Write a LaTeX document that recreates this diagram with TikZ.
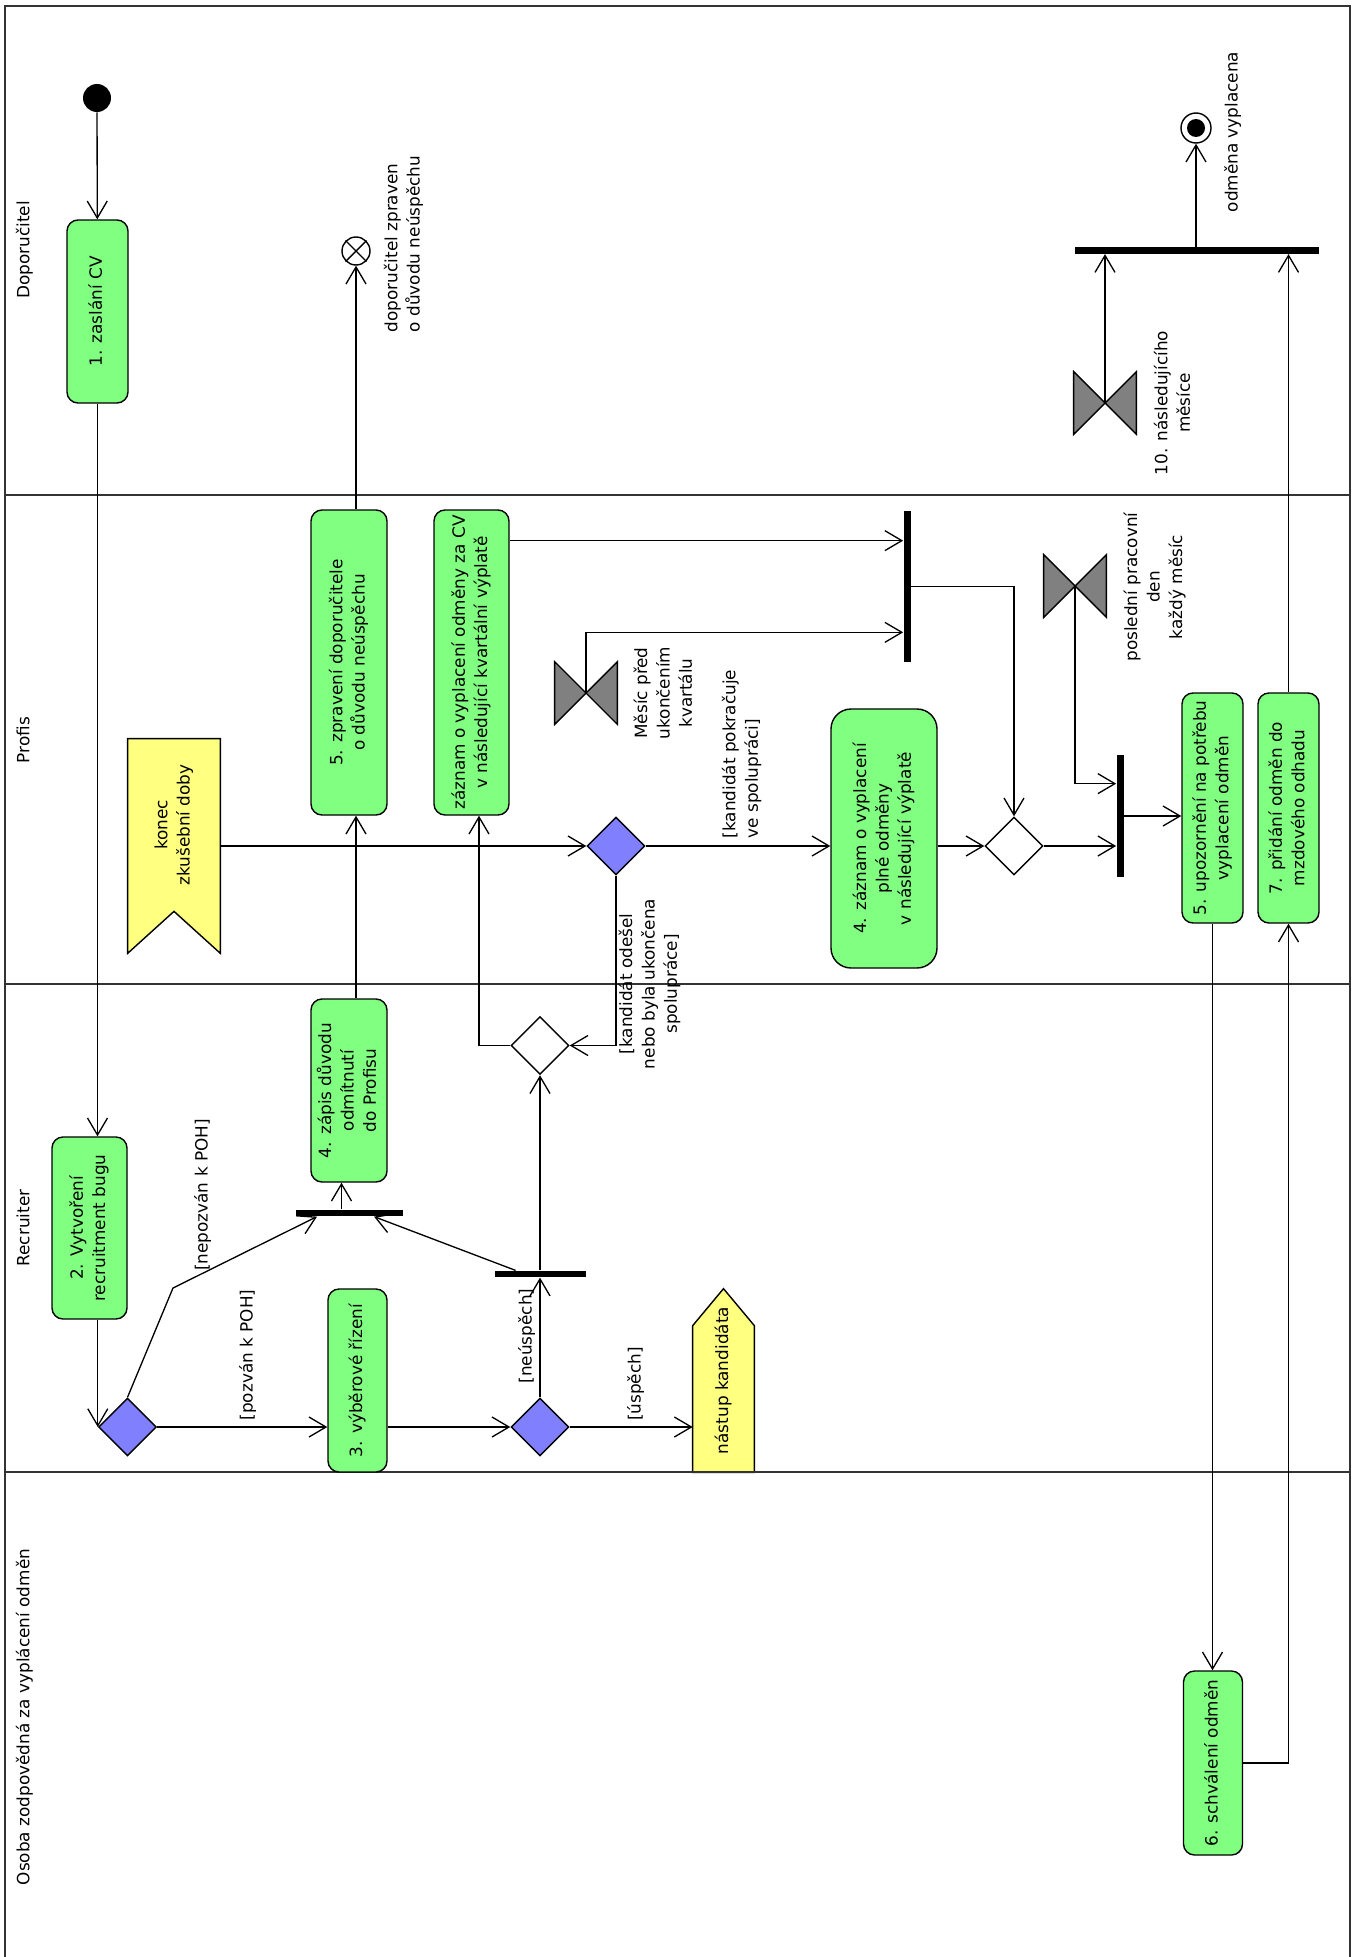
\documentclass[tikz,border=0pt]{standalone}
\usepackage{graphicx}
\usepackage{fontspec}
\setmainfont{DejaVu Sans}
\usetikzlibrary{shapes.geometric,arrows.meta,calc,backgrounds}

\definecolor{actgreen}{RGB}{128,255,128}
\definecolor{decblue}{RGB}{128,128,255}
\definecolor{sigyellow}{RGB}{255,255,128}
\definecolor{evgray}{RGB}{128,128,128}

\newlength\unitpx
\setlength\unitpx{0.02cm}
% rotated text, read from bottom to top
\newcommand{\vlabel}[2][c]{\rotatebox{90}{\begin{tabular}{@{}#1@{}}#2\end{tabular}}}

\begin{document}
\begin{tikzpicture}[x=\unitpx, y=-\unitpx]
    \tikzstyle{every node} = [font=\fontsize{9.6}{12.8}\selectfont, inner sep=0pt]
    \tikzstyle{act} = [rectangle, draw, rounded corners=0.22cm, fill=actgreen, line width=0.8pt, minimum width=61\unitpx, minimum height=183\unitpx]
    \tikzstyle{decision} = [diamond, draw, fill=decblue, line width=0.8pt, minimum width=58\unitpx, minimum height=58\unitpx]
    \tikzstyle{merge} = [diamond, draw, fill=white, line width=0.8pt, minimum width=58\unitpx, minimum height=58\unitpx]
    \tikzstyle{hbar} = [rectangle, fill=black, minimum height=6.5\unitpx]
    \tikzstyle{vbar} = [rectangle, fill=black, minimum width=7\unitpx]
    \tikzstyle{startdot} = [circle, fill=black, minimum size=28\unitpx]
    \tikzstyle{flowend} = [circle, draw, fill=white, line width=0.8pt, minimum size=28\unitpx]
    \tikzstyle{finalnode} = [circle, draw, fill=white, line width=0.8pt, minimum size=30\unitpx]
    \tikzstyle{timeev} = [rectangle, minimum width=62\unitpx, minimum height=62\unitpx]
    \tikzstyle{hourglass} = [draw, fill=evgray, line width=0.8pt]
    \tikzstyle{signal} = [draw, fill=sigyellow, line width=0.8pt]
    \tikzstyle{lane} = [draw=black!80, line width=1.2pt]
    \tikzstyle{flow} = [line width=0.75pt, -{Straight Barb[length=3.4mm, width=4mm]}]

    \useasboundingbox (0,0) rectangle (1359,1957);

    % Swimlanes
    \draw [lane] (5,1957) -- (5,6) -- (1350,6) -- (1350,1957);
    \foreach \y in {495,984,1472}
        \draw [lane] (5,\y) -- (1350,\y);
    \node (laneA) at (25,250) {\vlabel{Doporučitel}};
    \node (laneB) at (25,740) {\vlabel{Profis}};
    \node (laneC) at (25,1228) {\vlabel{Recruiter}};
    \node (laneD) at (25,1717) {\vlabel{Osoba zodpovědná za vyplácení odměn}};

    % Doporucitel
    \node [startdot] (start) at (97,98) {};
    \node [act] (zaslani) at (97.5,311.5) {\vlabel{1. zaslání CV}};
    \node [flowend] (zpraven) at (356,251) {};
    \node (zpravenl) at (404,244) {\vlabel[l]{doporučitel zpraven\\o důvodu neúspěchu}};
    \node [finalnode] (vyplaceno) at (1196,128) {};
    \node (vyplacenol) at (1233,132) {\vlabel{odměna vyplacena}};
    \node [hbar, minimum width=244\unitpx] (joinpay) at (1197,250.5) {};
    \node [timeev] (mesic10) at (1105,403) {};
    \node (mesic10l) at (1174,403) {\vlabel{10. následujícího\\měsíce}};

    % Profis
    \node [act, minimum width=76\unitpx, minimum height=305\unitpx] (zpraveni) at (349,662.5) {\vlabel{5. zpravení doporučitele\\o důvodu neúspěchu}};
    \node [act, minimum width=75\unitpx, minimum height=305\unitpx] (kvartal) at (471.5,662.5) {\vlabel{záznam o vyplacení odměny za CV\\v následující kvartální výplatě}};
    \node [minimum width=92\unitpx, minimum height=172\unitpx] (zkusebni) at (174,825) {\vlabel{konec\\zkušební doby}};
    \node [decision] (pokracuje) at (616,846) {};
    \node [timeev] (predkvartal) at (586,693) {};
    \node (predkvartall) at (665,693) {\vlabel{Měsíc před\\ukončením\\kvartálu}};
    \node [vbar, minimum height=151\unitpx] (forkkv) at (907,586.5) {};
    \node [act, rounded corners=0.4cm, minimum width=106\unitpx, minimum height=259\unitpx] (plna) at (884,838.5) {\vlabel{4. záznam o vyplacení\\plné odměny\\v následující výplatě}};
    \node [merge] (spojeni) at (1014,846) {};
    \node [timeev] (posledni) at (1075,586) {};
    \node (poslednil) at (1155,587) {\vlabel{poslední pracovní\\den\\každý měsíc}};
    \node [vbar, minimum height=122\unitpx] (joinmes) at (1120,816) {};
    \node [act, minimum height=230\unitpx] (upozorneni) at (1212.5,808) {\vlabel{5. upozornění na potřebu\\vyplacení odměn}};
    \node [act, minimum height=230\unitpx] (pridani) at (1288.5,808) {\vlabel{7. přidání odměn do\\mzdového odhadu}};

    % Recruiter
    \node [act, minimum width=75\unitpx, minimum height=182\unitpx] (bug) at (89.5,1228) {\vlabel{2. Vytvoření\\recruitment bugu}};
    \node [decision] (poh) at (127.5,1427) {};
    \node [act, minimum width=59\unitpx] (rizeni) at (357.5,1380.5) {\vlabel{3. výběrové řízení}};
    \node [decision] (vysledek) at (540,1427) {};
    \node [hbar, minimum width=91\unitpx] (joinneu) at (540,1274) {};
    \node [hbar, minimum width=107\unitpx] (joinodm) at (349.5,1213) {};
    \node [act, minimum width=76\unitpx] (zapis) at (349,1090.5) {\vlabel{4. zápis důvodu\\odmítnutí\\do Profisu}};
    \node [merge] (odesel) at (540,1045.5) {};
    \node [minimum width=61\unitpx, minimum height=183\unitpx] (nastup) at (723.5,1380.5) {\vlabel{nástup kandidáta}};

    % Osoba zodpovedna za vyplaceni odmen
    \node [act, minimum width=59\unitpx, minimum height=184\unitpx] (schvaleni) at (1213,1763) {\vlabel{6. schválení odměn}};

    % Guards
    \node (nepozvan) at (203,1195) {\vlabel{[nepozván k POH]}};
    \node (pozvan) at (248,1355) {\vlabel{[pozván k POH]}};
    \node (neuspech) at (527,1336) {\vlabel{[neúspěch]}};
    \node (uspech) at (636,1384) {\vlabel{[úspěch]}};
    \node (odesell) at (650,984) {\vlabel{[kandidát odešel\\nebo byla ukončena\\spolupráce]}};
    \node (pokracujel) at (742,754) {\vlabel[l]{[kandidát pokračuje\\ve spolupráci]}};

    % Signal shapes
    \begin{pgfonlayer}{background}
        \draw [signal] (zkusebni.north west) -- (zkusebni.north east) -- ($(zkusebni.south east)+(0,42)$) -- (zkusebni.south) -- ($(zkusebni.south west)+(0,42)$) -- cycle;
        \draw [signal] (nastup.south west) -- (nastup.south east) -- ($(nastup.north east)+(0,37)$) -- (nastup.north) -- ($(nastup.north west)+(0,37)$) -- cycle;
    \end{pgfonlayer}
    \foreach \t in {mesic10,predkvartal,posledni}
        \draw [hourglass] (\t.north west) -- (\t.south west) -- (\t.center) -- cycle (\t.north east) -- (\t.south east) -- (\t.center) -- cycle;
    \draw [line width=0.8pt] (zpraven.north west) -- (zpraven.south east) (zpraven.north east) -- (zpraven.south west);
    \fill (vyplaceno) circle (0.18cm);

    % Connector ends
    \coordinate (ohyb) at (173,1288);
    \coordinate (odmL) at ($(joinodm.south)+(-32.5,0)$);
    \coordinate (odmR) at ($(joinodm.south)+(24.5,0)$);
    \coordinate (odmU) at ($(joinodm.north)+(-8,0)$);
    \coordinate (neuL) at ($(joinneu.north)+(-24.4,0)$);
    \coordinate (kvartalIn) at ($(kvartal.south)+(7.5,0)$);
    \coordinate (kvA) at ($(forkkv.north west)+(0,30)$);
    \coordinate (kvB) at ($(forkkv.south west)+(0,-30)$);
    \coordinate (mesA) at ($(joinmes.north west)+(0,29)$);

    % Flows
    \draw [flow] (start) -- (zaslani);
    \draw [flow] (zaslani) -- (bug.north -| zaslani);
    \draw [flow] (bug.south -| poh.west) -- (poh.west);
    \draw [flow] (poh.east) -- (rizeni.west |- poh);
    \draw [flow] (poh.north) -- (ohyb) -- (odmL);
    \draw [flow] (rizeni.east |- vysledek) -- (vysledek.west);
    \draw [flow] (vysledek.east) -- (nastup.west |- vysledek);
    \draw [flow] (vysledek.north) -- (joinneu.south);
    \draw [flow] (joinneu.north) -- (odesel.south);
    \draw [flow] (neuL) -- (odmR);
    \draw [flow] (odmU) -- (zapis.south -| odmU);
    \draw [flow] (zapis.north -| zpraven) -- (zpraveni.south -| zpraven);
    \draw [flow] (zpraveni.north -| zpraven) -- (zpraven.south);
    \draw [flow] (zkusebni.east |- pokracuje) -- (pokracuje.west);
    \draw [flow] (pokracuje.east) -- (plna.west |- pokracuje);
    \draw [flow] (pokracuje.south) |- (odesel.east);
    \draw [flow] (odesel.west) -| (kvartalIn);
    \draw [flow] (kvartal.east |- kvA) -- (kvA);
    \draw [flow] (predkvartal.center) |- (kvB);
    \draw [flow] (forkkv.east) -| (spojeni.north);
    \draw [flow] (plna.east |- spojeni) -- (spojeni.west);
    \draw [flow] (spojeni.east) -- (joinmes.west |- spojeni);
    \draw [flow] (posledni.center) |- (mesA);
    \draw [flow] (joinmes.east) -- (upozorneni.west |- joinmes);
    \draw [flow] (upozorneni.south) -- (schvaleni.north -| upozorneni);
    \draw [flow] (schvaleni.east) -| (pridani.south);
    \draw [flow] (pridani.north) -- (joinpay.south -| pridani);
    \draw [flow] (mesic10.center) -- (joinpay.south -| mesic10);
    \draw [flow] (joinpay.north -| vyplaceno) -- (vyplaceno.south);
\end{tikzpicture}
\end{document}
